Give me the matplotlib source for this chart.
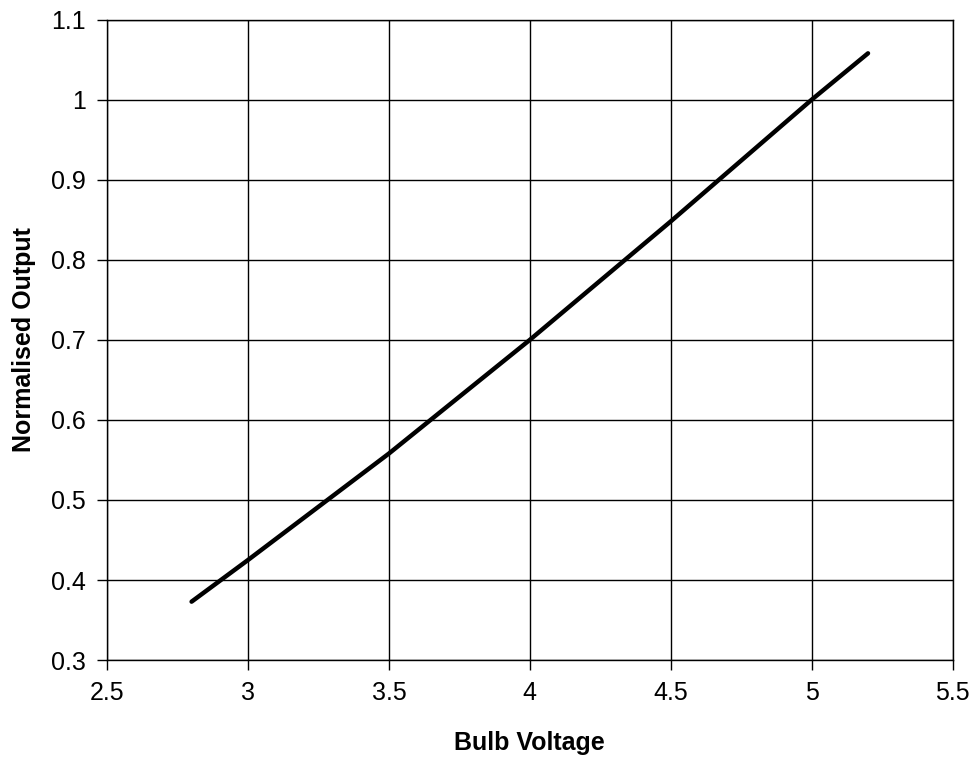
import matplotlib
matplotlib.use("Agg")
import matplotlib.pyplot as plt

voltage = [2.8, 3.0, 3.5, 4.0, 4.5, 5.0, 5.2]
output = [0.373, 0.425, 0.558, 0.70, 0.848, 1.0, 1.058]

x_ticks = [2.5, 3, 3.5, 4, 4.5, 5, 5.5]
x_labels = ["2.5", "3", "3.5", "4", "4.5", "5", "5.5"]
y_ticks = [0.3, 0.4, 0.5, 0.6, 0.7, 0.8, 0.9, 1.0, 1.1]
y_labels = ["0.3", "0.4", "0.5", "0.6", "0.7", "0.8", "0.9", "1", "1.1"]

plt.rcParams['font.family'] = ['Liberation Sans', 'DejaVu Sans']

fig = plt.figure(figsize=(9.73, 7.57), dpi=100)
ax = fig.add_axes([0.110, 0.128, 0.869, 0.846])

ax.plot(voltage, output, color="black", linewidth=3.2, solid_capstyle="round")

ax.set_xlim(2.5, 5.5)
ax.set_ylim(0.3, 1.1)
ax.set_xticks(x_ticks)
ax.set_xticklabels(x_labels)
ax.set_yticks(y_ticks)
ax.set_yticklabels(y_labels)
ax.grid(True, color="black", linewidth=1)
ax.set_axisbelow(True)
ax.tick_params(direction="out", length=7, width=1, labelsize=18, colors="black", pad=8)
for s in ax.spines.values():
    s.set_color("black")
    s.set_linewidth(1)

ax.set_xlabel("Bulb Voltage", fontsize=18, fontweight="bold", labelpad=19)
ax.set_ylabel("Normalised Output", fontsize=18, fontweight="bold", labelpad=11)

fig.savefig("out.png", dpi=100)
